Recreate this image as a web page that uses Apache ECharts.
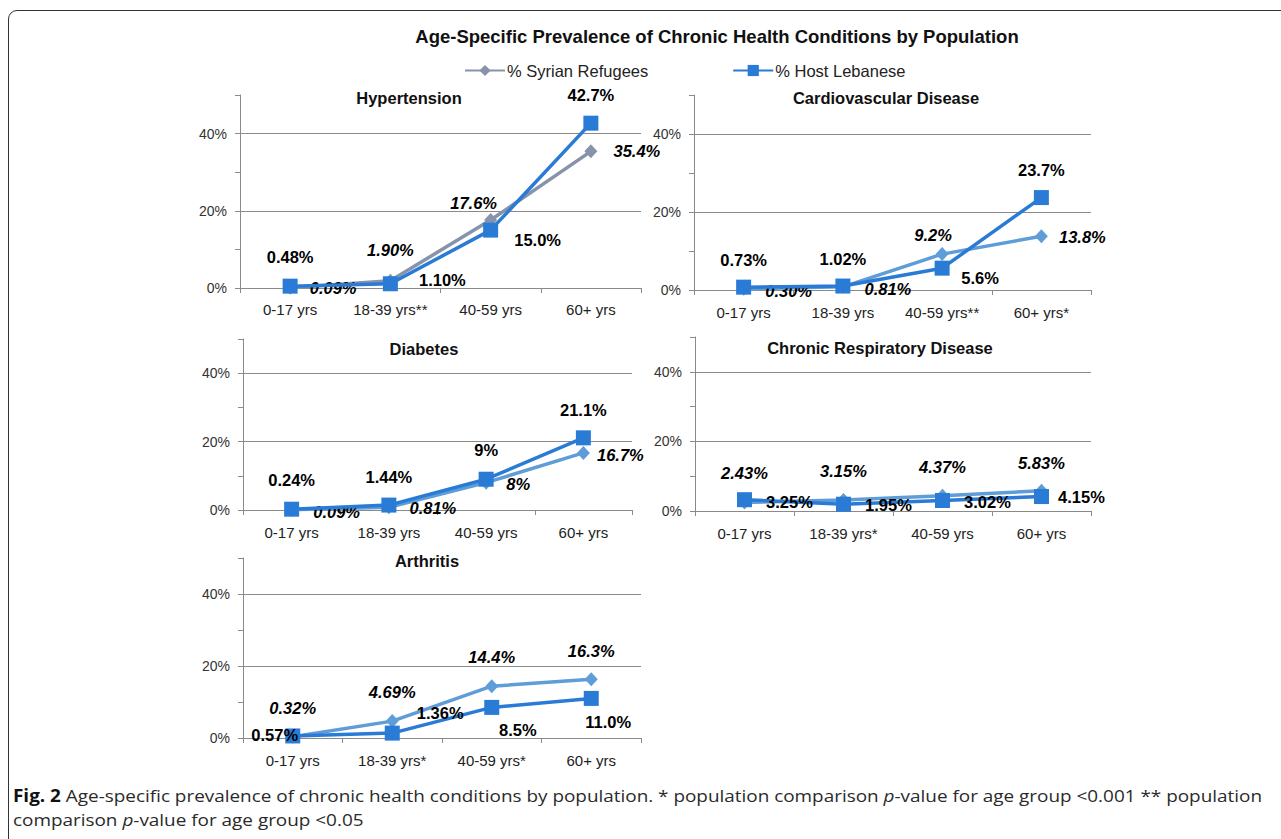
<!DOCTYPE html>
<html>
<head>
<meta charset="utf-8">
<script src="https://cdn.jsdelivr.net/npm/echarts@6/dist/echarts.min.js"></script>
<style>
html,body{margin:0;padding:0;background:#fff;overflow:hidden;}
#chart{position:absolute;left:0;top:0;width:1281px;height:839px;}
#frame{position:absolute;left:8px;top:10px;width:1300px;height:900px;border:1.5px solid #333;border-radius:9px;pointer-events:none;box-sizing:border-box;}
.cap{position:absolute;left:13px;white-space:nowrap;font-family:'Open Sans',sans-serif;font-size:17px;color:#2a2a2a;transform-origin:0 50%;line-height:24px;}
.cap b{color:#111;}
</style>
</head>
<body>
<div id="chart"></div>
<div id="frame"></div>
<div class="cap" id="cap1" style="top:784px"><b>Fig. 2</b> Age-specific prevalence of chronic health conditions by population. * population comparison <i>p</i>-value for age group &lt;0.001 ** population</div>
<div class="cap" id="cap2" style="top:808px">comparison <i>p</i>-value for age group &lt;0.05</div>
<script>
// ---------------- DATA ----------------
const mainTitle = 'Age-Specific Prevalence of Chronic Health Conditions by Population';
const seriesNames = ['% Syrian Refugees', '% Host Lebanese'];

const yTickValues = [0, 20, 40];
const yTickLabels = ['0%', '20%', '40%'];

const panelTitles = ['Hypertension', 'Cardiovascular Disease', 'Diabetes', 'Chronic Respiratory Disease', 'Arthritis'];

const catsHypertension = ['0-17 yrs', '18-39 yrs**', '40-59 yrs', '60+ yrs'];
const catsCardio = ['0-17 yrs', '18-39 yrs', '40-59 yrs**', '60+ yrs*'];
const catsDiabetes = ['0-17 yrs', '18-39 yrs', '40-59 yrs', '60+ yrs'];
const catsRespiratory = ['0-17 yrs', '18-39 yrs*', '40-59 yrs', '60+ yrs'];
const catsArthritis = ['0-17 yrs', '18-39 yrs*', '40-59 yrs*', '60+ yrs'];

const syrHypertension = [0.09, 1.90, 17.6, 35.4];
const hostHypertension = [0.48, 1.10, 15.0, 42.7];
const syrHypertensionText = ['0.09%', '1.90%', '17.6%', '35.4%'];
const hostHypertensionText = ['0.48%', '1.10%', '15.0%', '42.7%'];

const syrCardio = [0.30, 0.81, 9.2, 13.8];
const hostCardio = [0.73, 1.02, 5.6, 23.7];
const syrCardioText = ['0.30%', '0.81%', '9.2%', '13.8%'];
const hostCardioText = ['0.73%', '1.02%', '5.6%', '23.7%'];

const syrDiabetes = [0.09, 0.81, 8, 16.7];
const hostDiabetes = [0.24, 1.44, 9, 21.1];
const syrDiabetesText = ['0.09%', '0.81%', '8%', '16.7%'];
const hostDiabetesText = ['0.24%', '1.44%', '9%', '21.1%'];

const syrRespiratory = [2.43, 3.15, 4.37, 5.83];
const hostRespiratory = [3.25, 1.95, 3.02, 4.15];
const syrRespiratoryText = ['2.43%', '3.15%', '4.37%', '5.83%'];
const hostRespiratoryText = ['3.25%', '1.95%', '3.02%', '4.15%'];

const syrArthritis = [0.32, 4.69, 14.4, 16.3];
const hostArthritis = [0.57, 1.36, 8.5, 11.0];
const syrArthritisText = ['0.32%', '4.69%', '14.4%', '16.3%'];
const hostArthritisText = ['0.57%', '1.36%', '8.5%', '11.0%'];

// ---------------- LAYOUT / STYLE ----------------
const FONT = "'Liberation Sans', Arial, sans-serif";
const AXIS_COLOR = '#8a8a8a';
const HOST_COLOR = '#2a7bd5';
const SYR_GREY = '#8693aa';
const SYR_BLUE = '#5f9dd8';

const panels = [
  { cats: catsHypertension, syr: syrHypertension, host: hostHypertension, syrText: syrHypertensionText, hostText: hostHypertensionText,
    grid: {left: 240, top: 95, width: 401, height: 193}, titleXY: [409, 98], syrColor: SYR_GREY, labelMargin: 14,
    syrOff: [[43,0],[0,-31],[-17,-17],[46,0]], hostOff: [[0,-29],[52,-4],[47,10],[0,-28]] },
  { cats: catsCardio, syr: syrCardio, host: hostCardio, syrText: syrCardioText, hostText: hostCardioText,
    grid: {left: 694, top: 95, width: 397, height: 195}, titleXY: [886, 98], syrColor: SYR_BLUE, labelMargin: 15,
    syrOff: [[45,2],[45,2],[-9,-19],[41,1]], hostOff: [[0,-27],[0,-27],[38,10],[0,-28]] },
  { cats: catsDiabetes, syr: syrDiabetes, host: hostDiabetes, syrText: syrDiabetesText, hostText: hostDiabetesText,
    grid: {left: 243, top: 339, width: 389, height: 171}, titleXY: [424, 349], syrColor: SYR_BLUE, labelMargin: 15,
    syrOff: [[45,2],[44,1],[32,1],[37,2]], hostOff: [[0,-29],[0,-28],[0,-29],[0,-28]] },
  { cats: catsRespiratory, syr: syrRespiratory, host: hostRespiratory, syrText: syrRespiratoryText, hostText: hostRespiratoryText,
    grid: {left: 695, top: 337, width: 396, height: 174}, titleXY: [880, 348], syrColor: SYR_BLUE, labelMargin: 15,
    syrOff: [[0,-30],[0,-29],[0,-29],[0,-28]], hostOff: [[45,2],[45,1],[45,2],[40,0]] },
  { cats: catsArthritis, syr: syrArthritis, host: hostArthritis, syrText: syrArthritisText, hostText: hostArthritisText,
    grid: {left: 243, top: 558, width: 398, height: 180}, titleXY: [427, 561], syrColor: SYR_BLUE, labelMargin: 15,
    syrOff: [[0,-29],[0,-29],[0,-29],[0,-28]], hostOff: [[-18,-1],[48,-20],[26,23],[17,24]] }
];

const grids = [], xAxes = [], yAxes = [], series = [], graphics = [];

graphics.push({
  type: 'text', x: 717, y: 36, z: 100,
  style: { text: mainTitle, align: 'center', verticalAlign: 'middle', textAlign: 'center', textVerticalAlign: 'middle',
           fill: '#111', font: "bold 18.5px 'Liberation Sans', Arial, sans-serif" }
});

function lineSeries(name, gi, values, texts, offsets, color, symbol, size, italic, z) {
  return {
    type: 'line', name: name, xAxisIndex: gi, yAxisIndex: gi * 2,
    data: values.map((v, i) => ({ value: v, label: { offset: offsets[i], formatter: texts[i] } })),
    symbol: symbol, symbolSize: size, showAllSymbol: true, z: z,
    lineStyle: { color: color, width: 3.5 },
    itemStyle: { color: color },
    label: { show: true, position: 'inside', align: 'center', verticalAlign: 'middle', color: '#000',
             fontSize: 16.5, fontWeight: 'bold', fontStyle: italic ? 'italic' : 'normal', fontFamily: FONT,
             textBorderWidth: 0 },
    emphasis: { disabled: true }
  };
}

panels.forEach((p, gi) => {
  grids.push(Object.assign({ containLabel: false }, p.grid));
  xAxes.push({
    type: 'category', gridIndex: gi, data: p.cats, boundaryGap: true,
    axisLine: { show: true, lineStyle: { color: AXIS_COLOR, width: 1 } },
    axisTick: { show: true, length: 5, interval: 0, lineStyle: { color: AXIS_COLOR } },
    axisLabel: { interval: 0, margin: p.labelMargin, fontSize: 15, color: '#222', fontFamily: FONT },
    splitLine: { show: false }
  });
  yAxes.push({
    type: 'value', gridIndex: gi, min: 0, max: 50, interval: 10,
    axisLine: { show: true, lineStyle: { color: AXIS_COLOR, width: 1 } },
    axisTick: { show: true, length: 5, lineStyle: { color: AXIS_COLOR } },
    axisLabel: { margin: 13, fontSize: 14, color: '#333', fontFamily: FONT,
                 formatter: v => { const k = yTickValues.indexOf(v); return k >= 0 ? yTickLabels[k] : ''; } },
    splitLine: { show: false }
  });
  yAxes.push({
    type: 'value', gridIndex: gi, min: 0, max: 50, interval: 20,
    axisLine: { show: false }, axisTick: { show: false }, axisLabel: { show: false },
    splitLine: { show: true, showMinLine: false, showMaxLine: false, lineStyle: { color: AXIS_COLOR, width: 1 } }
  });
  series.push(lineSeries(seriesNames[0], gi, p.syr, p.syrText, p.syrOff, p.syrColor, 'diamond', [13, 14], true, 3));
  series.push(lineSeries(seriesNames[1], gi, p.host, p.hostText, p.hostOff, HOST_COLOR, 'rect', 15, false, 4));
  graphics.push({
    type: 'text', x: p.titleXY[0], y: p.titleXY[1], z: 100,
    style: { text: panelTitles[gi], align: 'center', verticalAlign: 'middle', textAlign: 'center', textVerticalAlign: 'middle',
             fill: '#111', font: "bold 16.5px 'Liberation Sans', Arial, sans-serif" }
  });
});

const chart = echarts.init(document.getElementById('chart'), null, { renderer: 'svg', width: 1281, height: 839 });
chart.setOption({
  backgroundColor: '#ffffff',
  animation: false,
  legend: {
    data: seriesNames, left: 459, top: 57, itemWidth: 40, itemHeight: 14, itemGap: 84,
    selectedMode: false,
    textStyle: { fontSize: 16.5, color: '#222', fontFamily: FONT, padding: [0, 0, 0, -3] }
  },
  grid: grids, xAxis: xAxes, yAxis: yAxes, series: series, graphic: graphics
});

function fitCaption() {
  const c1 = document.getElementById('cap1');
  const c2 = document.getElementById('cap2');
  c1.style.transform = 'none'; c2.style.transform = 'none';
  const w = c1.getBoundingClientRect().width;
  const s = 1249 / w;
  c1.style.transform = 'scaleX(' + s + ')';
  c2.style.transform = 'scaleX(' + s + ')';
}
fitCaption();
if (document.fonts && document.fonts.ready) document.fonts.ready.then(fitCaption);
</script>
</body>
</html>
